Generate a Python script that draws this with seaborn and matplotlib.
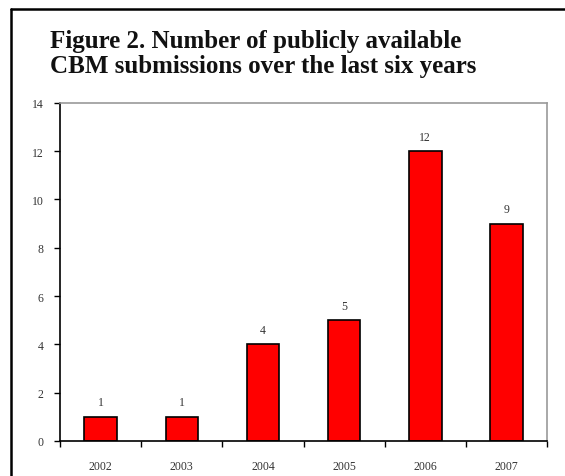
import matplotlib.pyplot as plt
import matplotlib.lines as mlines
import pandas as pd
import seaborn as sns

years = ['2002', '2003', '2004', '2005', '2006', '2007']
submissions = [1, 1, 4, 5, 12, 9]
y_ticks = [0, 2, 4, 6, 8, 10, 12, 14]

df = pd.DataFrame({'Year': years, 'Submissions': submissions})

sns.set_style('white')
plt.rcParams['font.family'] = ['Liberation Serif', 'DejaVu Serif']

fig = plt.figure(figsize=(5.65, 4.77), dpi=100)
ax = fig.add_axes([0.1062, 0.0734, 0.862, 0.709])

sns.barplot(x='Year', y='Submissions', data=df, order=years, color='#ff0000',
            saturation=1, width=0.4, edgecolor='black', linewidth=1.2, ax=ax)

# value labels above bars
ax.bar_label(ax.containers[0], labels=[str(v) for v in submissions],
             padding=6, fontsize=8.5, color='#333333')

ax.set_ylim(0, 14)
ax.set_yticks(y_ticks)
ax.set_xlim(-0.5, len(years) - 0.5)
ax.set_xlabel('')
ax.set_ylabel('')

# category boundary ticks on x axis, labels centred without ticks
ax.set_xticks([i - 0.5 for i in range(len(years) + 1)])
ax.set_xticklabels([])
ax.set_xticks(range(len(years)), minor=True)
ax.set_xticklabels(years, minor=True)
ax.tick_params(axis='x', which='major', bottom=True, direction='out', length=4, width=1,
               color='black')
ax.tick_params(axis='x', which='minor', bottom=True, length=0, pad=14, labelsize=8.5,
               labelcolor='#333333')
ax.tick_params(axis='y', left=True, direction='out', length=4, width=1, color='black',
               pad=8, labelsize=8.5, labelcolor='#333333')

for side in ['left', 'bottom']:
    ax.spines[side].set_color('black')
    ax.spines[side].set_linewidth(1.2)
for side in ['top', 'right']:
    ax.spines[side].set_color('#9a9a9a')
    ax.spines[side].set_linewidth(1.2)

fig.text(50 / 565, 1 - 30 / 477, 'Figure 2. Number of publicly available\nCBM submissions over the last six years',
         fontsize=18, fontweight='bold', color='#111111', va='top', ha='left',
         linespacing=1.12)

# outer frame
fig.add_artist(mlines.Line2D([11 / 565, 11 / 565], [0, 1 - 10 / 477], color='black', lw=1.8,
                             transform=fig.transFigure))
fig.add_artist(mlines.Line2D([11 / 565, 1], [1 - 10 / 477, 1 - 10 / 477], color='black', lw=1.8,
                             transform=fig.transFigure))

fig.savefig('out.png', dpi=100)
